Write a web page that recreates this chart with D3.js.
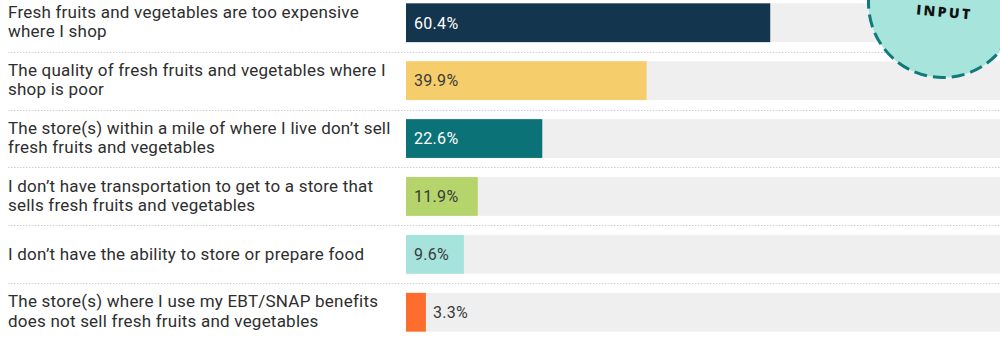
<!DOCTYPE html>
<html><head><meta charset="utf-8">
<script src="https://cdn.jsdelivr.net/npm/d3@7"></script>
<style>
html,body{margin:0;padding:0;background:#fff;overflow:hidden}
svg{display:block;font-family:Roboto,"Noto Sans",sans-serif}
</style></head>
<body><svg id="chart" width="1000" height="338"></svg>
<script>
const categories = [
  ["Fresh fruits and vegetables are too expensive", "where I shop"],
  ["The quality of fresh fruits and vegetables where I", "shop is poor"],
  ["The store(s) within a mile of where I live don\u2019t sell", "fresh fruits and vegetables"],
  ["I don\u2019t have transportation to get to a store that", "sells fresh fruits and vegetables"],
  ["I don\u2019t have the ability to store or prepare food"],
  ["The store(s) where I use my EBT/SNAP benefits", "does not sell fresh fruits and vegetables"]
];
const values = [60.4, 39.9, 22.6, 11.9, 9.6, 3.3];
const barColors = ["#14354e", "#f5cd6b", "#0b7378", "#b6d46c", "#a6e3dc", "#fd6d2e"];
const badgeText = "INPUT";

const svg = d3.select("#chart");
const W = 1000;
const x = d3.scaleLinear().domain([0, 100]).range([406, 1009]);
const y = d3.scaleBand().domain(d3.range(values.length)).range([-6.2, 341.2]).paddingInner(0.33).paddingOuter(0.165);

const rows = svg.selectAll("g.row").data(values).join("g").attr("class", "row");

// separators
svg.selectAll("line.sep").data(d3.range(values.length - 1)).join("line")
  .attr("class", "sep")
  .attr("x1", 8).attr("x2", W)
  .attr("y1", i => Math.round((y(i) + y.bandwidth() + y(i + 1)) / 2) + 0.5)
  .attr("y2", i => Math.round((y(i) + y.bandwidth() + y(i + 1)) / 2) + 0.5)
  .attr("stroke", "#cfcfcf").attr("stroke-width", 1.2).attr("stroke-dasharray", "1.5,1.5");

// background tracks
rows.append("rect")
  .attr("x", x(0)).attr("width", x(100) - x(0))
  .attr("y", (d, i) => y(i)).attr("height", y.bandwidth())
  .attr("fill", "#efefef");

// bars
rows.append("rect")
  .attr("x", x(0)).attr("width", d => x(d) - x(0))
  .attr("y", (d, i) => y(i)).attr("height", y.bandwidth())
  .attr("fill", (d, i) => barColors[i]);

// value labels
rows.append("text")
  .attr("x", d => (x(d) - x(0) > 50 ? x(0) + 8 : x(d) + 7))
  .attr("y", (d, i) => y(i) + y.bandwidth() / 2)
  .attr("dy", "0.36em")
  .attr("font-size", 16)
  .attr("letter-spacing", 0.3)
  .attr("fill", (d, i) => (x(d) - x(0) > 50 && d3.hsl(barColors[i]).l < 0.4) ? "#ffffff" : "#3a3a3a")
  .text(d => d.toFixed(1) + "%");

// category labels
const lab = rows.append("text")
  .attr("font-size", 17)
  .attr("letter-spacing", 0.22)
  .attr("fill", "#2e2e2e");
lab.each(function (d, i) {
  const lines = categories[i];
  const c = y(i) + y.bandwidth() / 2;
  const t = d3.select(this);
  lines.forEach((ln, k) => {
    const base = lines.length === 1 ? c + 5.5 : c - 4.8 + k * 19.4;
    t.append("tspan").attr("x", 8).attr("y", base).text(ln);
  });
});

// badge
const badge = svg.append("g");
badge.append("circle")
  .attr("cx", 943).attr("cy", 3).attr("r", 74.5)
  .attr("fill", "#a6e4dc")
  .attr("stroke", "#0e7a7c").attr("stroke-width", 3)
  .attr("stroke-dasharray", "13,6");
badge.append("text")
  .attr("transform", "translate(944,17) rotate(5)")
  .attr("text-anchor", "middle")
  .attr("font-family", "'Open Sans', sans-serif")
  .attr("font-weight", 800)
  .attr("font-size", 14)
  .attr("letter-spacing", 2.4)
  .attr("fill", "#111")
  .text(badgeText);
</script></body></html>
